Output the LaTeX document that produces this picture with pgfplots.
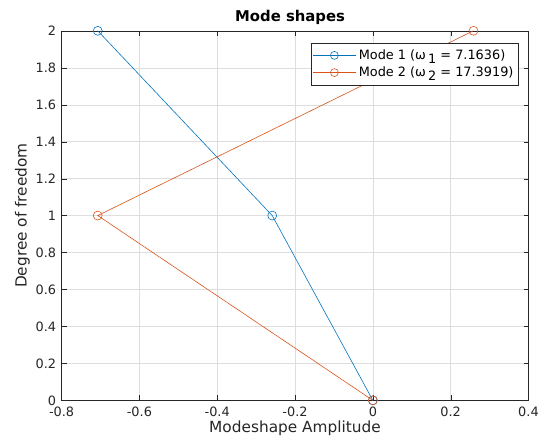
\documentclass[border=0pt]{standalone}
\usepackage{pgfplots}
\pgfplotsset{compat=1.18}
\usepackage{fontspec}
\setmainfont{DejaVu Sans}
\definecolor{mblue}{rgb}{0,0.447,0.741}
\definecolor{morange}{rgb}{0.85,0.325,0.098}
\definecolor{axgray}{rgb}{0.15,0.15,0.15}
\newcommand{\om}[1]{ω\raisebox{-0.55ex}{\,#1}}
\begin{document}
\begin{tikzpicture}
\begin{axis}[
    scale only axis,
    width=470bp, height=372bp,
    xmin=-0.8, xmax=0.4, ymin=0, ymax=2,
    xtick={-0.8,-0.6,...,0.4},
    ytick={0,0.2,...,2},
    grid=major,
    major grid style={draw=black!13},
    axis line style={draw=axgray},
    tick style={draw=axgray},
    tick align=inside,
    major tick length=5bp,
    /pgf/number format/assume math mode=true,
    ticklabel style={font=\fontsize{13}{15}\selectfont, text=axgray},
    xticklabel style={yshift=-3bp},
    yticklabel style={xshift=-2bp},
    xlabel={Modeshape Amplitude},
    ylabel={Degree of freedom},
    label style={font=\fontsize{15.5}{17}\selectfont, text=axgray},
    xlabel style={yshift=3bp},
    ylabel style={yshift=-1bp},
    title={\textbf{Mode shapes}},
    title style={font=\fontsize{15}{17}\selectfont, yshift=-3bp, xshift=-5bp},
    legend style={at={(0.979,0.968)}, anchor=north east, draw=axgray,
        font=\fontsize{13}{16}\selectfont, inner xsep=2pt, inner ysep=6pt,
        row sep=4pt, nodes={inner xsep=3pt, inner ysep=1pt}},
    legend cell align=left,
    legend image code/.code={
        \draw[#1] (0cm,0cm) -- (1.5cm,0cm);
        \draw[#1, mark repeat=1, mark size=4bp] plot coordinates {(0.75cm,0cm)};
    },
]
\addplot[color=mblue, mark=o, mark size=4.5bp, line width=0.6pt] coordinates {
    (0,0) (-0.2586,1) (-0.7071,2)
};
\addlegendentry{Mode 1 (\om{1} = 7.1636)}
\addplot[color=morange, mark=o, mark size=4.5bp, line width=0.6pt] coordinates {
    (0,0) (-0.7071,1) (0.2586,2)
};
\addlegendentry{Mode 2 (\om{2} = 17.3919)}
\end{axis}
\path ([shift={(-62bp,-46bp)}]current axis.south west) rectangle ([shift={(10bp,31bp)}]current axis.north east);
\end{tikzpicture}
\end{document}
